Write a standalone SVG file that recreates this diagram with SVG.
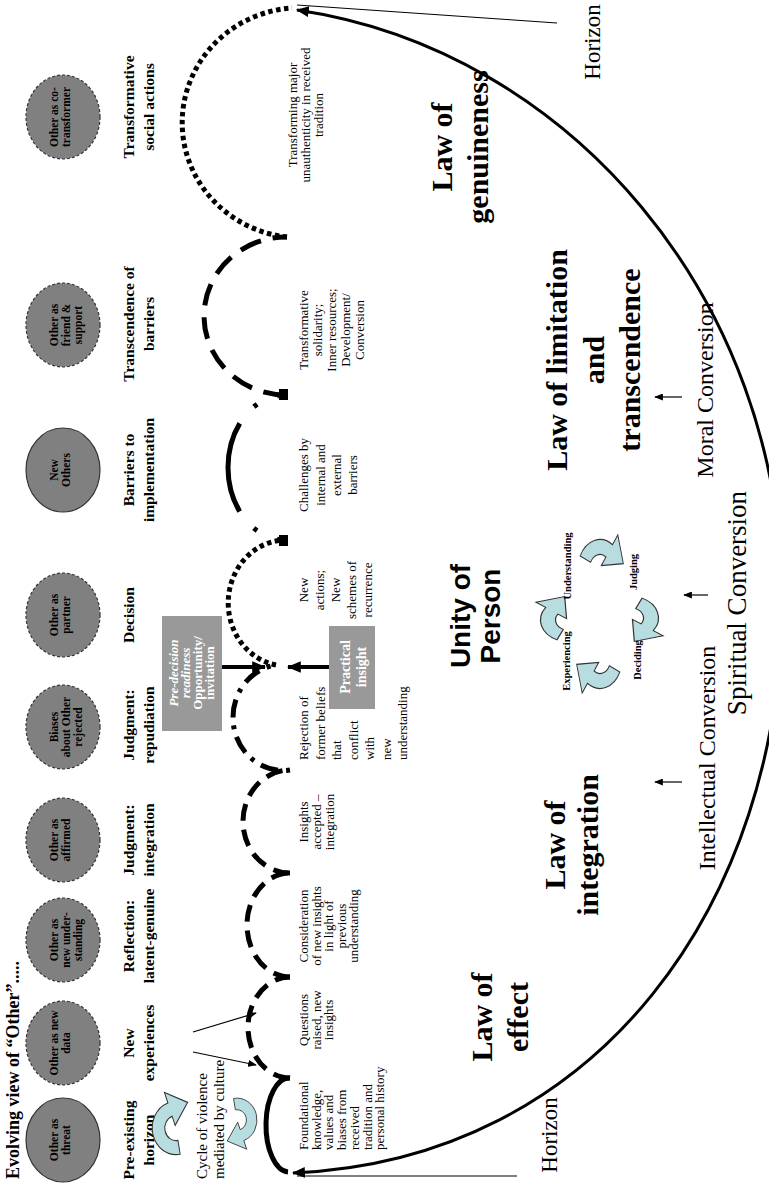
<svg xmlns="http://www.w3.org/2000/svg" width="769" height="1183" viewBox="0 0 769 1183">
<style>
.s{font-family:"Liberation Serif","Times New Roman",serif;fill:#000}
.b{font-weight:bold}
.el{font-size:11.5px;font-weight:bold}
.st{font-size:15.5px;font-weight:bold}
.ds{font-size:13px}
.law{font-size:30px;font-weight:bold}
.cv{font-size:24px}
.cyc{font-size:10.5px;font-weight:bold}
.uni{font-family:"Liberation Sans",Arial,sans-serif;font-size:28px;font-weight:bold}
.oth{fill:#808080;stroke:#333;stroke-width:1.2}
.dsh{stroke-dasharray:3 2}
.box{fill:#999}
.wt{fill:#fff}
.carr{fill:#b7dde0;stroke:#333;stroke-width:0.8}
.arc{fill:none;stroke:#000;stroke-width:5;stroke-linecap:butt}
</style>
<defs>
<marker id="big" viewBox="0 0 12 10" refX="11" refY="5" markerWidth="13" markerHeight="11" markerUnits="userSpaceOnUse" orient="auto-start-reverse"><path d="M0,0 L12,5 L0,10 Z" fill="#000"/></marker>
<marker id="thk" viewBox="0 0 12 10" refX="11" refY="5" markerWidth="14" markerHeight="13" markerUnits="userSpaceOnUse" orient="auto"><path d="M0,0 L12,5 L0,10 Z" fill="#000"/></marker>
<marker id="sml" viewBox="0 0 10 8" refX="9" refY="4" markerWidth="9" markerHeight="7" markerUnits="userSpaceOnUse" orient="auto"><path d="M0,0 L10,4 L0,8 Z" fill="#000"/></marker>
<path id="carrow" d="M-8.03,17.22 A19,19 0 0 1 -15.56,-10.90 L-22.12,-15.49 L-2.86,-20.3 L-1.64,-1.15 L-7.37,-5.16 A9,9 0 0 0 -3.80,8.16 Z"/>
<path id="carrow2" d="M3.30,18.71 A19,19 0 0 1 -6.50,-17.86 L-9.23,-25.37 L9.31,-18.29 L-0.68,-1.88 L-3.08,-8.46 A9,9 0 0 0 1.56,8.86 Z"/>
</defs>

<text class="s b" font-size="18" transform="translate(0,1179) rotate(-90)" text-anchor="start"><tspan x="0" y="19">Evolving view of “Other”.....</tspan></text>

<g id="node-other-threat"><ellipse class="oth" cx="63" cy="1140" rx="37" ry="42"/><text class="s el" transform="translate(0,1140) rotate(-90)" text-anchor="middle"><tspan x="0" y="58">Other as</tspan><tspan x="0" y="70">threat</tspan></text></g>
<g id="node-other-data"><ellipse class="oth dsh" cx="63" cy="1043" rx="37" ry="42"/><text class="s el" transform="translate(0,1043) rotate(-90)" text-anchor="middle"><tspan x="0" y="58">Other as new</tspan><tspan x="0" y="70">data</tspan></text></g>
<g id="node-other-understanding"><ellipse class="oth dsh" cx="63" cy="940" rx="37" ry="42"/><text class="s el" transform="translate(0,940) rotate(-90)" text-anchor="middle"><tspan x="0" y="58">Other as</tspan><tspan x="0" y="70">new under-</tspan><tspan x="0" y="82">standing</tspan></text></g>
<g id="node-other-affirmed"><ellipse class="oth dsh" cx="63" cy="840" rx="37" ry="42"/><text class="s el" transform="translate(0,840) rotate(-90)" text-anchor="middle"><tspan x="0" y="58">Other as</tspan><tspan x="0" y="70">affirmed</tspan></text></g>
<g id="node-biases"><ellipse class="oth dsh" cx="63" cy="727" rx="37" ry="42"/><text class="s el" transform="translate(0,727) rotate(-90)" text-anchor="middle"><tspan x="0" y="58">Biases</tspan><tspan x="0" y="70">about Other</tspan><tspan x="0" y="82">rejected</tspan></text></g>
<g id="node-other-partner"><ellipse class="oth dsh" cx="63" cy="615" rx="37" ry="42"/><text class="s el" transform="translate(0,615) rotate(-90)" text-anchor="middle"><tspan x="0" y="58">Other as</tspan><tspan x="0" y="70">partner</tspan></text></g>
<g id="node-new-others"><ellipse class="oth" cx="63" cy="470" rx="37" ry="42"/><text class="s el" transform="translate(0,470) rotate(-90)" text-anchor="middle"><tspan x="0" y="58">New</tspan><tspan x="0" y="70">Others</tspan></text></g>
<g id="node-other-friend"><ellipse class="oth dsh" cx="63" cy="325" rx="37" ry="42"/><text class="s el" transform="translate(0,325) rotate(-90)" text-anchor="middle"><tspan x="0" y="58">Other as</tspan><tspan x="0" y="70">friend &amp;</tspan><tspan x="0" y="82">support</tspan></text></g>
<g id="node-other-cotransformer"><ellipse class="oth dsh" cx="63" cy="117" rx="37" ry="42"/><text class="s el" transform="translate(0,117) rotate(-90)" text-anchor="middle"><tspan x="0" y="58">Other as co-</tspan><tspan x="0" y="70">transformer</tspan></text></g>

<g id="stage-labels">
<text class="s st" transform="translate(0,1140) rotate(-90)" text-anchor="middle"><tspan x="0" y="134">Pre-existing</tspan><tspan x="0" y="154">horizon</tspan></text>
<text class="s st" transform="translate(0,1043) rotate(-90)" text-anchor="middle"><tspan x="0" y="134">New</tspan><tspan x="0" y="154">experiences</tspan></text>
<text class="s st" transform="translate(0,936) rotate(-90)" text-anchor="middle"><tspan x="0" y="134">Reflection:</tspan><tspan x="0" y="154">latent-genuine</tspan></text>
<text class="s st" transform="translate(0,840) rotate(-90)" text-anchor="middle"><tspan x="0" y="134">Judgment:</tspan><tspan x="0" y="154">integration</tspan></text>
<text class="s st" transform="translate(0,725) rotate(-90)" text-anchor="middle"><tspan x="0" y="134">Judgment:</tspan><tspan x="0" y="154">repudiation</tspan></text>
<text class="s st" transform="translate(0,615) rotate(-90)" text-anchor="middle"><tspan x="0" y="134">Decision</tspan></text>
<text class="s st" transform="translate(0,470) rotate(-90)" text-anchor="middle"><tspan x="0" y="134">Barriers to</tspan><tspan x="0" y="154">implementation</tspan></text>
<text class="s st" transform="translate(0,324) rotate(-90)" text-anchor="middle"><tspan x="0" y="134">Transcendence of</tspan><tspan x="0" y="154">barriers</tspan></text>
<text class="s st" transform="translate(0,107) rotate(-90)" text-anchor="middle"><tspan x="0" y="134">Transformative</tspan><tspan x="0" y="154">social actions</tspan></text>
</g>

<g id="node-cycle-violence">
<use href="#carrow2" class="carr" transform="translate(176,1128) scale(1.25,1.4)"/>
<use href="#carrow2" class="carr" transform="translate(237,1120) rotate(180) scale(1.05,1.15)"/>
<text class="s" font-size="15" transform="translate(0,1179) rotate(-90)" text-anchor="start"><tspan x="0" y="207">Cycle of violence</tspan><tspan x="0" y="224">mediated by culture</tspan></text>
</g>

<g id="descriptions">
<text class="s ds" transform="translate(0,1150) rotate(-90)" text-anchor="start"><tspan x="0" y="308">Foundational</tspan><tspan x="0" y="320.7">knowledge,</tspan><tspan x="0" y="333.4">values and</tspan><tspan x="0" y="346.1">biases from</tspan><tspan x="0" y="358.8">received</tspan><tspan x="0" y="371.5">tradition and</tspan><tspan x="0" y="384.2">personal history</tspan></text>
<text class="s ds" transform="translate(0,1020) rotate(-90)" text-anchor="middle"><tspan x="0" y="308">Questions</tspan><tspan x="0" y="320.5">raised, new</tspan><tspan x="0" y="333">insights</tspan></text>
<text class="s ds" transform="translate(0,926) rotate(-90)" text-anchor="middle"><tspan x="0" y="308">Consideration</tspan><tspan x="0" y="320.5">of new insights</tspan><tspan x="0" y="333">in light of</tspan><tspan x="0" y="345.5">previous</tspan><tspan x="0" y="358">understanding</tspan></text>
<text class="s ds" transform="translate(0,822) rotate(-90)" text-anchor="middle"><tspan x="0" y="308">Insights</tspan><tspan x="0" y="321">accepted –</tspan><tspan x="0" y="334">integration</tspan></text>
<text class="s ds" transform="translate(0,760) rotate(-90)" text-anchor="start"><tspan x="0" y="308">Rejection of</tspan><tspan x="0" y="324.5">former beliefs</tspan><tspan x="0" y="341">that</tspan><tspan x="0" y="357.5">conflict</tspan><tspan x="0" y="374">with</tspan><tspan x="0" y="390.5">new</tspan><tspan x="0" y="407">understanding</tspan></text>
<text class="s ds" transform="translate(0,590) rotate(-90)" text-anchor="middle"><tspan x="0" y="308">New</tspan><tspan x="0" y="324">actions;</tspan><tspan x="0" y="340">New</tspan><tspan x="0" y="356">schemes of</tspan><tspan x="0" y="372">recurrence</tspan></text>
<text class="s ds" transform="translate(0,475) rotate(-90)" text-anchor="middle"><tspan x="0" y="308">Challenges by</tspan><tspan x="0" y="324.5">internal and</tspan><tspan x="0" y="341">external</tspan><tspan x="0" y="357">barriers</tspan></text>
<text class="s ds" transform="translate(0,330) rotate(-90)" text-anchor="middle"><tspan x="0" y="308">Transformative</tspan><tspan x="0" y="322">solidarity;</tspan><tspan x="0" y="336">Inner resources;</tspan><tspan x="0" y="350">Development/</tspan><tspan x="0" y="364">Conversion</tspan></text>
<text class="s ds" transform="translate(0,115) rotate(-90)" text-anchor="middle"><tspan x="0" y="297">Transforming major</tspan><tspan x="0" y="310">unauthenticity in received</tspan><tspan x="0" y="323">tradition</tspan></text>
</g>

<g id="node-predecision">
<rect class="box" x="162" y="616" width="60" height="115"/>
<text class="s b wt" font-size="13" transform="translate(0,673) rotate(-90)" text-anchor="middle"><tspan x="0" y="178" font-style="italic">Pre-decision</tspan><tspan x="0" y="190" font-style="italic">readiness</tspan><tspan x="0" y="202">Opportunity/</tspan><tspan x="0" y="214">invitation</tspan></text>
</g>
<g id="node-practical-insight">
<rect class="box" x="329" y="626" width="46" height="83"/>
<text class="s b wt" font-size="14" transform="translate(0,667) rotate(-90)" text-anchor="middle"><tspan x="0" y="350">Practical</tspan><tspan x="0" y="366">insight</tspan></text>
</g>

<g id="connectors">
<path d="M297,10 C570,50 782,300 782,600 C782,900 600,1160 293,1173" fill="none" stroke="#000" stroke-width="3" marker-start="url(#big)" marker-end="url(#big)"/>
<line x1="297" y1="5" x2="557" y2="23" stroke="#000" stroke-width="1"/>
<line x1="297" y1="1176" x2="517" y2="1176" stroke="#000" stroke-width="1"/>
<path class="arc" d="M288,1172 A23,47 0 0 1 290,1078"/>
<path class="arc" d="M290,1078 A42,50.5 0 0 1 290,977" stroke-dasharray="17 9"/>
<path class="arc" d="M290,977 A43,52 0 0 1 290,873" stroke-dasharray="17 9"/>
<path class="arc" d="M290,873 A47,51.5 0 0 1 290,770" stroke-dasharray="17 9"/>
<path class="arc" d="M290,770 A50,53 0 0 1 276,665" stroke-dasharray="4 8 18 8"/>
<path class="arc" d="M276,665 A58,63 0 0 1 285,540" stroke-dasharray="4.5 3.5"/>
<path class="arc" d="M285,540 A57,72.5 0 0 1 285,395" stroke-dasharray="8 22 4 22 92 22 4 22 8"/>
<path class="arc" d="M285,395 A82,79 0 0 1 287,237" stroke-dasharray="22 12"/>
<path class="arc" d="M287,237 A118,115 0 0 1 292,8" stroke-dasharray="4.5 3.5"/>
<rect x="279" y="389" width="9" height="11" fill="#000"/>
<rect x="279" y="535" width="9" height="11" fill="#000"/>
<line x1="222" y1="667" x2="265" y2="667" stroke="#000" stroke-width="4" marker-end="url(#thk)"/>
<line x1="329" y1="667" x2="288" y2="667" stroke="#000" stroke-width="4" marker-end="url(#thk)"/>
<line x1="193" y1="1032" x2="256" y2="1013" stroke="#000" stroke-width="1.2" marker-end="url(#sml)"/>
<line x1="193" y1="1052" x2="256" y2="1065" stroke="#000" stroke-width="1.2" marker-end="url(#sml)"/>
<line x1="682" y1="397" x2="655" y2="397" stroke="#000" stroke-width="1.2" marker-end="url(#sml)"/>
<line x1="708" y1="595" x2="684" y2="595" stroke="#000" stroke-width="1.2" marker-end="url(#sml)"/>
<line x1="682" y1="782" x2="655" y2="782" stroke="#000" stroke-width="1.2" marker-end="url(#sml)"/>
</g>

<g id="laws">
<text class="s law" transform="translate(0,147) rotate(-90)" text-anchor="middle"><tspan x="0" y="452">Law of</tspan><tspan x="0" y="488">genuineness</tspan></text>
<text class="s law" transform="translate(0,360) rotate(-90)" text-anchor="middle"><tspan x="0" y="567">Law of limitation</tspan><tspan x="0" y="604">and</tspan><tspan x="0" y="640">transcendence</tspan></text>
<text class="s law" transform="translate(0,845) rotate(-90)" text-anchor="middle"><tspan x="0" y="565">Law of</tspan><tspan x="0" y="598">integration</tspan></text>
<text class="s law" transform="translate(0,1017) rotate(-90)" text-anchor="middle"><tspan x="0" y="492">Law of</tspan><tspan x="0" y="528">effect</tspan></text>
</g>

<g id="conversions">
<text class="s cv" transform="translate(0,390) rotate(-90)" text-anchor="middle"><tspan x="0" y="713">Moral Conversion</tspan></text>
<text class="s" font-size="27" transform="translate(0,603) rotate(-90)" text-anchor="middle"><tspan x="0" y="746">Spiritual Conversion</tspan></text>
<text class="s cv" transform="translate(0,758) rotate(-90)" text-anchor="middle"><tspan x="0" y="715">Intellectual Conversion</tspan></text>
<text class="s" font-size="23" transform="translate(0,42) rotate(-90)" text-anchor="middle"><tspan x="0" y="600">Horizon</tspan></text>
<text class="s" font-size="23" transform="translate(0,1135) rotate(-90)" text-anchor="middle"><tspan x="0" y="557">Horizon</tspan></text>
</g>

<g id="node-unity">
<text class="uni" transform="translate(0,616) rotate(-90)" text-anchor="middle"><tspan x="0" y="470">Unity of</tspan><tspan x="0" y="500">Person</tspan></text>
<use href="#carrow" class="carr" transform="translate(569,620) scale(1.5,1.15)"/>
<use href="#carrow" class="carr" transform="translate(600,568) rotate(90) scale(1.5,1.15)"/>
<use href="#carrow" class="carr" transform="translate(630,618) rotate(180) scale(1.5,1.15)"/>
<use href="#carrow" class="carr" transform="translate(600,660) rotate(270) scale(1.5,1.15)"/>
<text class="s cyc" transform="translate(0,566) rotate(-90)" text-anchor="middle"><tspan x="0" y="571">Understanding</tspan></text>
<text class="s cyc" transform="translate(0,572) rotate(-90)" text-anchor="middle"><tspan x="0" y="637">Judging</tspan></text>
<text class="s cyc" transform="translate(0,660) rotate(-90)" text-anchor="middle"><tspan x="0" y="641">Deciding</tspan></text>
<text class="s cyc" transform="translate(0,661) rotate(-90)" text-anchor="middle"><tspan x="0" y="570">Experiencing</tspan></text>
</g>
</svg>
